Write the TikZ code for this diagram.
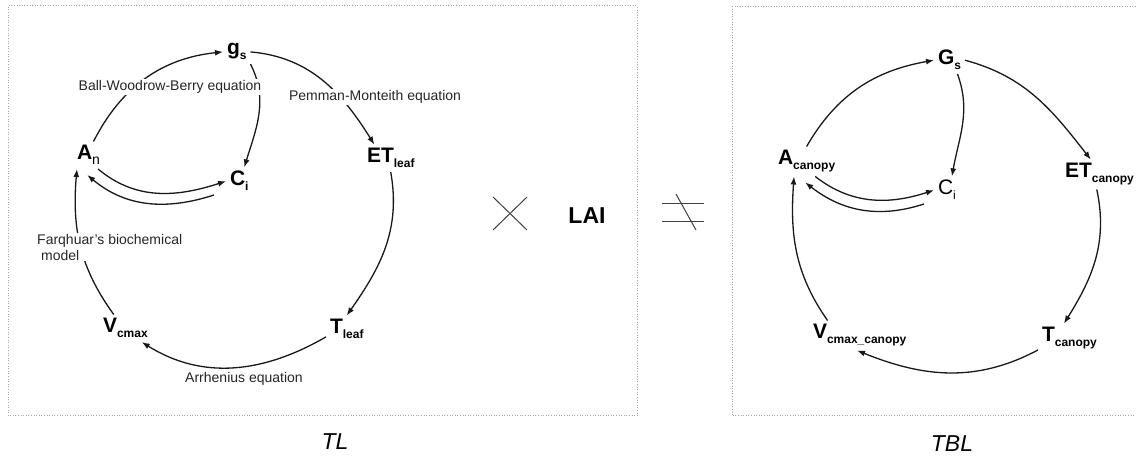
\documentclass[tikz,border=0pt]{standalone}
\usepackage{fontspec}
\setmainfont{Liberation Sans}
\usetikzlibrary{arrows.meta}

\tikzset{
	var/.style={font=\bfseries\fontsize{21}{24}\selectfont, inner sep=1pt, outer sep=3pt, anchor=base west},
	eqn/.style={font=\fontsize{14}{16}\selectfont, text=black!85, fill=white, inner sep=1pt},
	link/.style={-{Latex[length=8pt,width=6pt]}, line width=1.3pt, draw=black!90},
	frame/.style={draw=black!35, line width=1pt, dash pattern=on 1pt off 1.6pt},
	symb/.style={draw=black!75, line width=1pt},
	caption/.style={font=\itshape\fontsize{23}{26}\selectfont},
}
\newcommand{\vsub}[1]{\raisebox{-5pt}{\fontsize{12}{14}\selectfont #1}}

\begin{document}
\begin{tikzpicture}[x=1pt,y=1pt]
	\useasboundingbox (0,0) rectangle (1136,457);
	
	% frames
	\draw[frame] (8,41) rectangle (637,451);
	\draw[frame] (1136,450) -- (732,450) -- (732,41) -- (1136,41);
	
	% TL
	\node[var] (gs) at (223,402) {g\vsub{s}};
	\node[var] (An) at (73,297) {A\vsub{\mdseries\fontsize{14}{14}\selectfont n}};
	\node[var] (Ci) at (226,271) {C\vsub{i}};
	\node[var] (ETl) at (363,294) {ET\vsub{leaf}};
	\node[var] (Tl) at (326,123) {T\vsub{leaf}};
	\node[var] (Vc) at (99,124) {V\vsub{cmax}};
	
	\draw[link] (An.70) to[out=63,in=186] (gs.west);
	\draw[link] (gs.south east) to[out=-63,in=73] (Ci.70);
	\draw[link] (gs.east) to[out=-5,in=122] (ETl.140);
	\draw[link] (ETl.south) to[out=-80,in=55] (Tl.north);
	\draw[link] (Tl.200) to[out=210,in=-32] (Vc.-40);
	\draw[link] (Vc.130) to[out=126,in=265] (An.-130);
	\draw[link] (An.-55) to[out=-40,in=198] (Ci.west);
	\draw[link] ([xshift=-12pt]Ci.south west) to[out=198,in=-40] ([yshift=-6pt]An.-95);
	
	\node[eqn] (bwb) at (170,370) {Ball-Woodrow-Berry equation};
	\node[eqn] (pm) at (375,360) {Pemman-Monteith equation};
	\node[eqn, align=left, anchor=north west] (fbm) at (36,224) {Farqhuar's biochemical\\\hspace*{4pt}model};
	\node[eqn] (arr) at (244,78) {Arrhenius equation};
	\node[caption] (tl) at (335,15) {TL};
	
	% times LAI, not equal
	\draw[symb] (493,260) -- (527,227);
	\draw[symb] (493,227) -- (527,260);
	\node[font=\bfseries\fontsize{23}{26}\selectfont] (lai) at (587,241) {LAI};
	\draw[symb] (662,253) -- (704,253);
	\draw[symb] (662,235) -- (704,235);
	\draw[symb] (676,263) -- (696,227);
	
	% TBL
	\node[var] (Gs) at (934,392) {G\vsub{s}};
	\node[var] (Ac) at (774,292) {A\vsub{canopy}};
	\node[var, font=\fontsize{21}{24}\selectfont] (Ci2) at (934,262) {C\vsub{i}};
	\node[var] (ETc) at (1061,279) {ET\vsub{canopy}};
	\node[var] (Tc) at (1038,115) {T\vsub{canopy}};
	\node[var] (Vcc) at (809,118) {V\vsub{cmax\_canopy}};
	
	\draw[link] (Ac.north) to[out=60,in=190] (Gs.west);
	\draw[link] (Gs.-60) to[out=-70,in=80] (Ci2.70);
	\draw[link] (Gs.east) to[out=-15,in=128] (ETc.120);
	\draw[link] (ETc.-100) to[out=-78,in=58] (Tc.110);
	\draw[link] (Tc.200) to[out=208,in=-22] (Vcc.-100);
	\draw[link] (Vcc.155) to[out=125,in=266] (Ac.-130);
	\draw[link] (Ac.-60) to[out=-38,in=198] (Ci2.west);
	\draw[link] ([xshift=-10pt]Ci2.south west) to[out=198,in=-38] ([yshift=-6pt]Ac.-95);
	
	\node[caption] (tbl) at (952,13) {TBL};
\end{tikzpicture}
\end{document}
